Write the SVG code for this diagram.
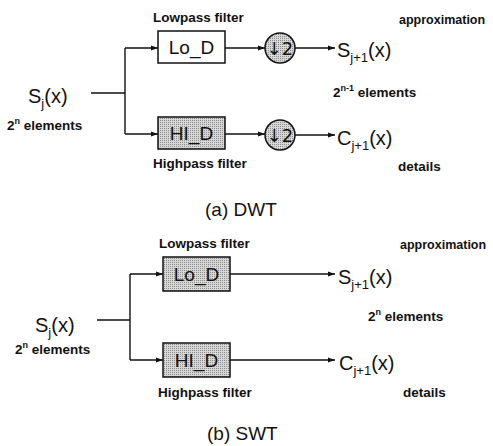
<svg xmlns="http://www.w3.org/2000/svg" width="493" height="446" viewBox="0 0 493 446">
<defs>
<marker id="arr" markerUnits="userSpaceOnUse" markerWidth="8" markerHeight="6" refX="7" refY="3" orient="auto">
<path d="M0,0.5 L7,3 L0,5.5 Z" fill="#111"/>
</marker>
<pattern id="dots" width="2" height="2" patternUnits="userSpaceOnUse">
<rect width="2" height="2" fill="#d8d8d8"/>
<rect width="1" height="1" fill="#8a8a8a"/>
</pattern>
</defs>
<style>
.lbl{font-family:"Liberation Sans",Arial,sans-serif;font-size:13.5px;font-weight:bold;fill:#111}
.apx{font-size:12.5px}
.main{font-family:"Liberation Sans",Arial,sans-serif;font-size:20px;fill:#111}
.sub{font-size:13px}
.sup{font-size:9px}
.box{font-family:"Liberation Sans",Arial,sans-serif;font-size:19px;fill:#111;text-anchor:middle}
.dn{font-family:"DejaVu Sans",sans-serif;font-size:18px;fill:#111;text-anchor:middle}
.cap{font-family:"Liberation Sans",Arial,sans-serif;font-size:19px;fill:#111}
.plain{fill:#fff;stroke:#111;stroke-width:1.5}
.shade{fill:url(#dots);stroke:#111;stroke-width:1.5}
.ln{fill:none;stroke:#111;stroke-width:1.4}
.ar{fill:none;stroke:#111;stroke-width:1.4;marker-end:url(#arr)}
</style>
<rect width="493" height="446" fill="#fff"/>

<g id="connectors">
<path class="ln" d="M91,93 H125 M125,48 V134"/>
<path class="ar" d="M125,48 H158"/>
<path class="ar" d="M125,134 H158"/>
<path class="ar" d="M225,48 H265"/>
<path class="ar" d="M225,134 H265"/>
<path class="ar" d="M295,48 H335"/>
<path class="ar" d="M295,135 H335"/>
<path class="ln" d="M97,320 H130 M130,274 V360"/>
<path class="ar" d="M130,274 H163"/>
<path class="ar" d="M130,360 H163"/>
<path class="ar" d="M230,274 H335"/>
<path class="ar" d="M230,360 H335"/>
</g>

<g id="dwt-input">
<text class="main" x="28" y="103">S<tspan class="sub" dy="5">j</tspan><tspan dy="-5">(x)</tspan></text>
<text class="lbl" x="7" y="130">2<tspan class="sup" dy="-6">n</tspan><tspan dy="6"> elements</tspan></text>
</g>
<g id="dwt-lo">
<text class="lbl" x="153" y="22">Lowpass filter</text>
<rect class="plain" x="158" y="31" width="67" height="32"/>
<text class="box" x="191.5" y="54">Lo_D</text>
</g>
<g id="dwt-hi">
<rect class="shade" x="158" y="117" width="67" height="32"/>
<text class="box" x="191.5" y="140">HI_D</text>
<text class="lbl" x="153" y="168">Highpass filter</text>
</g>
<g id="dwt-down1">
<circle class="shade" cx="280" cy="48" r="15"/>
<text class="dn" x="280" y="54.5">↓2</text>
</g>
<g id="dwt-down2">
<circle class="shade" cx="280" cy="135" r="15"/>
<text class="dn" x="280" y="141.5">↓2</text>
</g>
<g id="dwt-approx">
<text class="main" x="337" y="57">S<tspan class="sub" dy="5">j+1</tspan><tspan dy="-5">(x)</tspan></text>
<text class="lbl apx" x="399" y="24">approximation</text>
<text class="lbl" x="333" y="97">2<tspan class="sup" dy="-6">n-1</tspan><tspan dy="6"> elements</tspan></text>
</g>
<g id="dwt-detail">
<text class="main" x="337" y="145">C<tspan class="sub" dy="5">j+1</tspan><tspan dy="-5">(x)</tspan></text>
<text class="lbl" x="398" y="171">details</text>
</g>
<text class="cap" x="205" y="216">(a) DWT</text>

<g id="swt-input">
<text class="main" x="35" y="332">S<tspan class="sub" dy="5">j</tspan><tspan dy="-5">(x)</tspan></text>
<text class="lbl" x="15" y="354">2<tspan class="sup" dy="-6">n</tspan><tspan dy="6"> elements</tspan></text>
</g>
<g id="swt-lo">
<text class="lbl" x="159" y="248">Lowpass filter</text>
<rect class="shade" x="163" y="257" width="67" height="34"/>
<text class="box" x="196.5" y="281">Lo_D</text>
</g>
<g id="swt-hi">
<rect class="shade" x="163" y="343" width="67" height="34"/>
<text class="box" x="196.5" y="367">HI_D</text>
<text class="lbl" x="158" y="397">Highpass filter</text>
</g>
<g id="swt-approx">
<text class="main" x="338" y="284">S<tspan class="sub" dy="5">j+1</tspan><tspan dy="-5">(x)</tspan></text>
<text class="lbl apx" x="400" y="249">approximation</text>
<text class="lbl" x="368" y="321">2<tspan class="sup" dy="-6">n</tspan><tspan dy="6"> elements</tspan></text>
</g>
<g id="swt-detail">
<text class="main" x="339" y="370">C<tspan class="sub" dy="5">j+1</tspan><tspan dy="-5">(x)</tspan></text>
<text class="lbl" x="403" y="397">details</text>
</g>
<text class="cap" x="207" y="440">(b) SWT</text>
</svg>
